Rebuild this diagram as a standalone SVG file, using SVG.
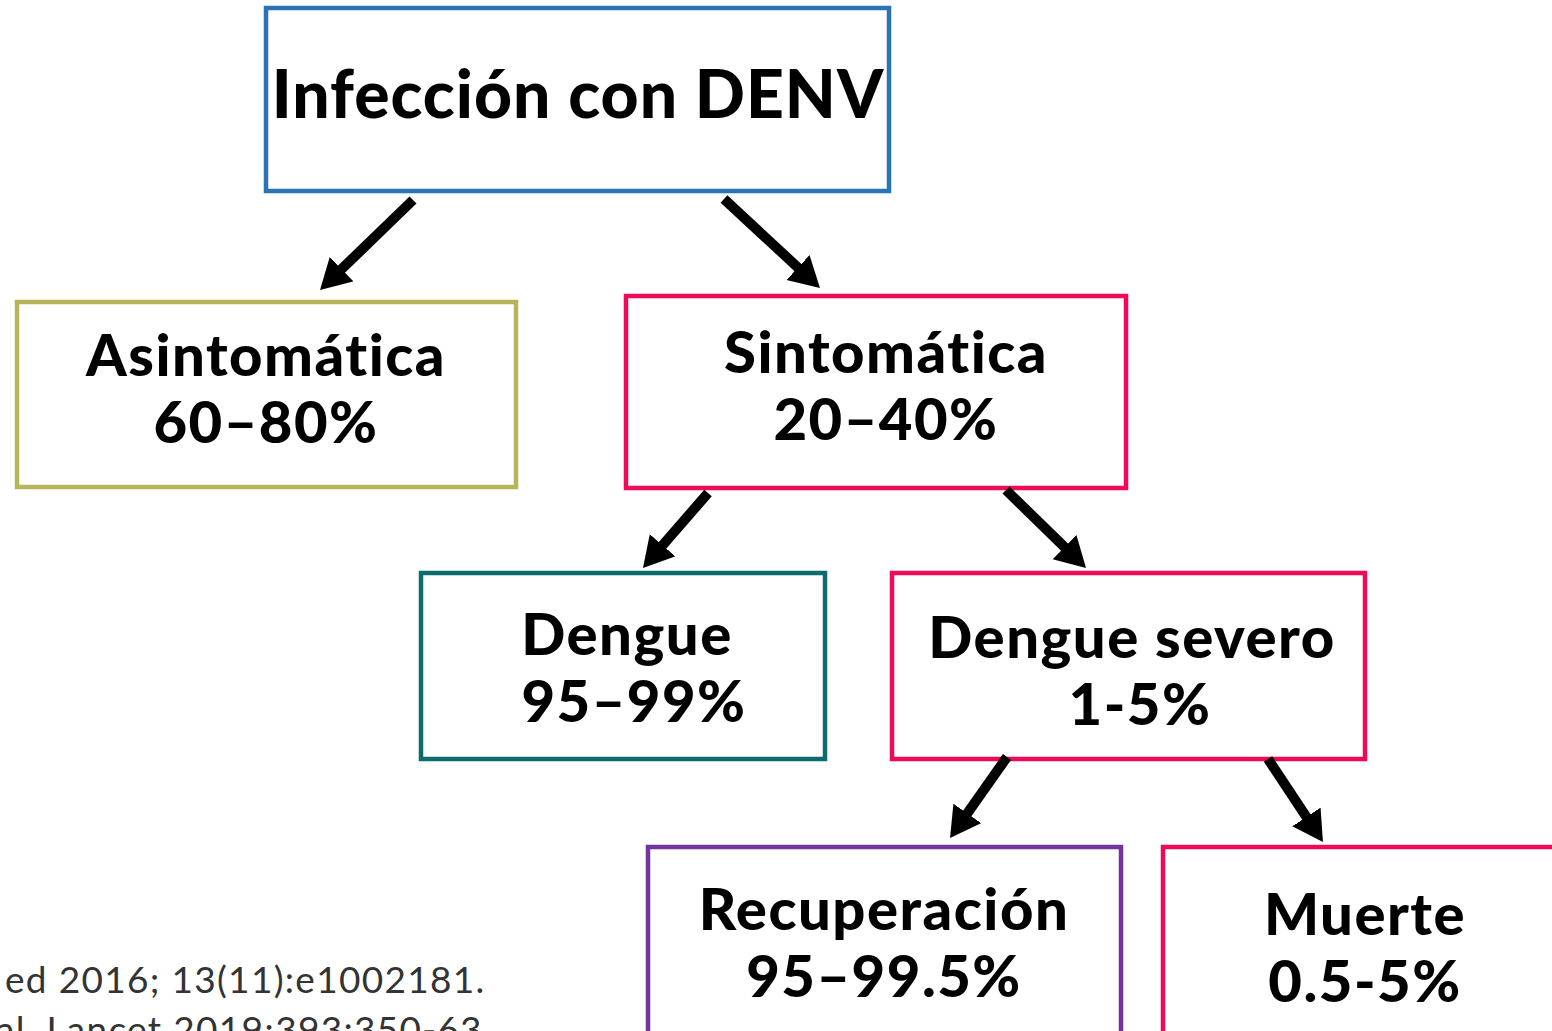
<svg xmlns="http://www.w3.org/2000/svg" width="1552" height="1031" viewBox="0 0 1552 1031">
<style>
.box{fill:#ffffff;stroke-width:4.5}
.t{font-family:Lato,"Noto Sans","Liberation Sans",sans-serif;font-weight:900;fill:#000;text-anchor:middle}
.big{font-size:66px;letter-spacing:1px}
.mid{font-size:58px;letter-spacing:1.5px}
.cite{font-family:Lato,"Noto Sans","Liberation Sans",sans-serif;font-size:37px;letter-spacing:1.3px;fill:#333333}
.arr{stroke:#000;stroke-width:10;fill:none;marker-end:url(#ah)}
</style>
<defs>
<marker id="ah" markerUnits="userSpaceOnUse" markerWidth="34" markerHeight="36" refX="4" refY="17" orient="auto" viewBox="0 0 34 36">
<path d="M0,0 L30,17 L0,34 z" fill="#000"/>
</marker>
</defs>
<rect width="1552" height="1031" fill="#ffffff"/>
<g id="cite">
<text class="cite" x="5" y="993">ed 2016; 13(11):e1002181.</text>
<text class="cite" x="-4" y="1043">al. Lancet 2019;393:350-63</text>
</g>
<g id="node-infeccion">
<rect class="box" x="266" y="8" width="623" height="183" stroke="#2a74b6"/>
<text class="t big" x="578" y="118">Infección con DENV</text>
</g>
<g id="node-asintomatica">
<rect class="box" x="17" y="302" width="499" height="185" stroke="#b6b55c"/>
<text class="t mid" x="266" y="376">Asintomática</text>
<text class="t mid" x="266" y="443">60–80%</text>
</g>
<g id="node-sintomatica">
<rect class="box" x="626" y="296" width="500" height="192" stroke="#ee0a55"/>
<text class="t mid" x="886" y="373">Sintomática</text>
<text class="t mid" x="886" y="440">20–40%</text>
</g>
<g id="node-dengue">
<rect class="box" x="421" y="573" width="404" height="186" stroke="#0d6b6e"/>
<text class="t mid" x="627" y="655">Dengue</text>
<text class="t mid" x="634" y="722">95–99%</text>
</g>
<g id="node-severo">
<rect class="box" x="892" y="573" width="473" height="186" stroke="#ee0a55"/>
<text class="t mid" x="1132" y="658">Dengue severo</text>
<text class="t mid" x="1140" y="725">1-5%</text>
</g>
<g id="node-recuperacion">
<rect class="box" x="648" y="847" width="473" height="200" stroke="#7434a0"/>
<text class="t mid" x="884" y="930">Recuperación</text>
<text class="t mid" x="884" y="997">95–99.5%</text>
</g>
<g id="node-muerte">
<rect class="box" x="1163" y="847" width="420" height="200" stroke="#ee0a55"/>
<text class="t mid" x="1365" y="935">Muerte</text>
<text class="t mid" x="1365" y="1002">0.5-5%</text>
</g>
<g id="connectors">
<line class="arr" x1="413" y1="200" x2="338.7" y2="271.9"/>
<line class="arr" x1="724" y1="199" x2="800.9" y2="270.3"/>
<line class="arr" x1="708" y1="493" x2="660" y2="548.3"/>
<line class="arr" x1="1006" y1="490" x2="1067.4" y2="549.9"/>
<line class="arr" x1="1007" y1="757" x2="965" y2="816.7"/>
<line class="arr" x1="1268" y1="759" x2="1308.6" y2="820.3"/>
</g>
</svg>
